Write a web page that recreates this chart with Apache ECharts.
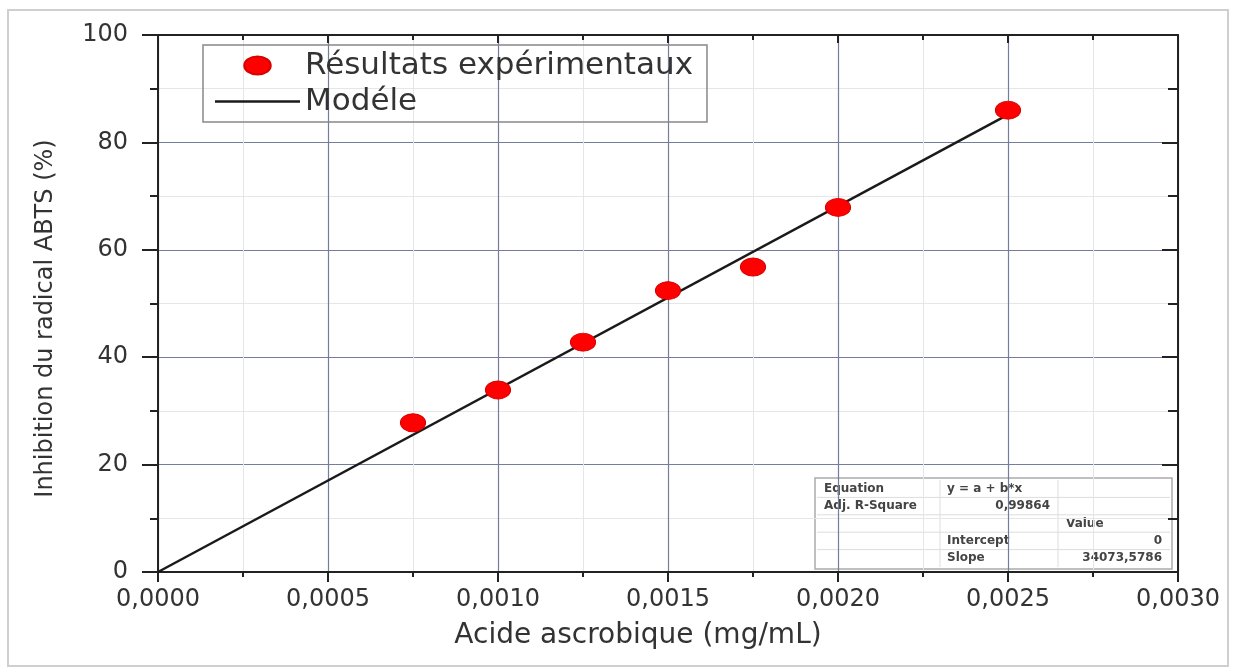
<!DOCTYPE html>
<html>
<head>
<meta charset="utf-8">
<script src="https://cdn.jsdelivr.net/npm/echarts@6/dist/echarts.min.js"></script>
<style>
  html, body { margin: 0; padding: 0; background: #fff; }
  #chart { width: 1237px; height: 669px; }
</style>
</head>
<body>
<div id="chart"></div>
<script>
// experimental points (concentration in mg/mL, inhibition in %)
const expX = [0.00075, 0.0010, 0.00125, 0.0015, 0.00175, 0.0020, 0.0025];
const expY = [27.8, 33.9, 42.8, 52.4, 56.8, 67.9, 86.0];

// fitted model y = b*x, drawn from its two ends
const modelX = [0, 0.0025];
const modelY = [0, 85.18];

// fit summary box
const fitRows = [
  ['Equation', 'y = a + b*x', ''],
  ['Adj. R-Square', '0,99864', ''],
  ['', '', 'Value'],
  ['', 'Intercept', '0'],
  ['', 'Slope', '34073,5786']
];

const font = 'DejaVu Sans';
const chart = echarts.init(document.getElementById('chart'));

// flattened dot, like the stretched markers of the original
const dotPath = 'path://M0,8.5C0,3.8 5.6,0 12.5,0C19.4,0 25,3.8 25,8.5C25,13.2 19.4,17 12.5,17C5.6,17 0,13.2 0,8.5Z';
const linePath = 'path://M0,0L85,0L85,2.5L0,2.5Z';

function pairs(xs, ys) {
  return xs.map((x, i) => [x, ys[i]]);
}

// table drawn as plain graphic elements
function fitTable() {
  const left = 817, top = 480, rowH = 17.4;
  const colX = [817, 940, 1058, 1170];
  const els = [];
  els.push({
    type: 'rect',
    shape: { x: left - 2, y: top - 2, width: colX[3] - left + 4, height: rowH * 5 + 4 },
    style: { fill: '#fff', stroke: '#aaa', lineWidth: 1.5 }
  });
  for (let r = 1; r < 5; r++) {
    els.push({
      type: 'line',
      shape: { x1: left, y1: top + r * rowH, x2: colX[3], y2: top + r * rowH },
      style: { stroke: '#ddd', lineWidth: 1 }
    });
  }
  for (let c = 1; c < 3; c++) {
    els.push({
      type: 'line',
      shape: { x1: colX[c], y1: top, x2: colX[c], y2: top + rowH * 5 },
      style: { stroke: '#ddd', lineWidth: 1 }
    });
  }
  fitRows.forEach((row, r) => {
    row.forEach((txt, c) => {
      if (!txt) return;
      const numeric = /^[0-9,]+$/.test(txt);
      let x, align;
      if (txt === 'Value') { x = colX[2] + 8; align = 'left'; }
      else if (numeric) { x = (c === 1 ? 1050 : colX[3] - 8); align = 'right'; }
      else { x = colX[c] + 7; align = 'left'; }
      els.push({
        type: 'text',
        x: x,
        y: top + r * rowH + rowH / 2,
        style: {
          text: txt, fontFamily: font, fontSize: 12, fontWeight: 'bold',
          fill: '#444', align: align, verticalAlign: 'middle'
        }
      });
    });
  });
  return els;
}

const xFmt = v => v.toFixed(4).replace('.', ',');

const baseX = {
  type: 'value', min: 0, max: 0.003, interval: 0.0005,
  axisLine: { show: true, onZero: false, lineStyle: { color: '#222', width: 2 } },
  minorTick: { show: true, splitNumber: 2 },
  splitLine: { show: false }
};
const baseY = {
  type: 'value', min: 0, max: 100, interval: 20,
  axisLine: { show: true, onZero: false, lineStyle: { color: '#222', width: 2 } },
  minorTick: { show: true, splitNumber: 2 },
  splitLine: { show: false }
};

const option = {
  backgroundColor: '#fff',
  animation: false,
  grid: { left: 158, right: 59, top: 35, bottom: 97, containLabel: false },
  legend: {
    orient: 'vertical',
    left: 203,
    top: 45,
    itemWidth: 85,
    itemHeight: 18,
    itemGap: 5,
    padding: [5, 14, 5, 12],
    borderColor: '#888',
    borderWidth: 1.5,
    textStyle: { fontFamily: font, fontSize: 31, color: '#333' },
    data: [
      { name: 'Résultats expérimentaux' },
      { name: 'Modéle', icon: linePath }
    ]
  },
  xAxis: [
    Object.assign({}, baseX, {
      position: 'bottom',
      name: 'Acide ascrobique (mg/mL)',
      nameLocation: 'middle',
      nameGap: 50,
      nameTextStyle: { fontFamily: font, fontSize: 28, color: '#333', padding: [0, 60, 0, 0] },
      axisTick: { length: 10, lineStyle: { color: '#222', width: 2 } },
      minorTick: { show: true, splitNumber: 2, length: 5, lineStyle: { color: '#222', width: 2 } },
      axisLabel: { margin: 16, fontFamily: font, fontSize: 24, color: '#333', formatter: xFmt },
      splitLine: { show: true, lineStyle: { color: '#767c9c', width: 1.2 } },
      minorSplitLine: { show: true, lineStyle: { color: '#e6e6e6', width: 1 } }
    }),
    Object.assign({}, baseX, {
      position: 'top',
      axisLabel: { show: false },
      axisTick: { inside: true, length: 8, lineStyle: { color: '#222', width: 2 } },
      minorTick: { show: true, splitNumber: 2, length: 5, lineStyle: { color: '#222', width: 2 } }
    })
  ],
  yAxis: [
    Object.assign({}, baseY, {
      position: 'left',
      name: 'Inhibition du radical ABTS (%)',
      nameLocation: 'middle',
      nameGap: 100,
      nameTextStyle: { fontFamily: font, fontSize: 24, color: '#333', padding: [0, 30, 0, 0] },
      axisTick: { length: 16, lineStyle: { color: '#222', width: 2 } },
      minorTick: { show: true, splitNumber: 2, length: 8, lineStyle: { color: '#222', width: 2 } },
      axisLabel: { margin: 30, fontFamily: font, fontSize: 24, color: '#333' },
      splitLine: { show: true, lineStyle: { color: '#767c9c', width: 1.2 } },
      minorSplitLine: { show: true, lineStyle: { color: '#e6e6e6', width: 1 } }
    }),
    Object.assign({}, baseY, {
      position: 'right',
      axisLabel: { show: false },
      axisTick: { inside: true, length: 16, lineStyle: { color: '#222', width: 2 } },
      minorTick: { show: true, splitNumber: 2, length: 10, lineStyle: { color: '#222', width: 2 } }
    })
  ],
  series: [
    {
      name: 'Modéle',
      type: 'line',
      data: pairs(modelX, modelY),
      symbol: 'none',
      lineStyle: { color: '#1a1a1a', width: 2.5 },
      itemStyle: { color: '#1a1a1a' },
      z: 2
    },
    {
      name: 'Résultats expérimentaux',
      type: 'scatter',
      data: pairs(expX, expY),
      symbol: dotPath,
      symbolSize: [25, 18],
      symbolKeepAspect: false,
      itemStyle: { color: '#ff0000', borderColor: '#d80000', borderWidth: 1, opacity: 1 },
      z: 3
    }
  ],
  graphic: [
    {
      type: 'rect',
      z: -10,
      shape: { x: 8, y: 10, width: 1220, height: 656 },
      style: { fill: 'none', stroke: '#cfcfcf', lineWidth: 2 }
    },
    { type: 'group', z: 100, children: fitTable() }
  ]
};

chart.setOption(option);
</script>
</body>
</html>
